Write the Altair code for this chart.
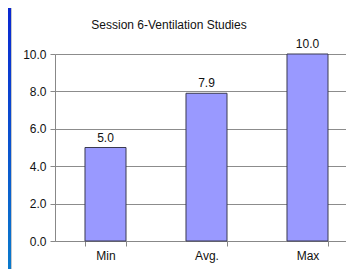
import altair as alt
import pandas as pd

categories = ["Min", "Avg.", "Max"]
values = [5.0, 7.9, 10.0]
labels = ["5.0", "7.9", "10.0"]
title_text = ["Session 6-Ventilation Studies"]
y_ticks = [0, 2, 4, 6, 8, 10]

df = pd.DataFrame({"cat": categories, "val": values, "lab": labels})
tdf = pd.DataFrame({"t": title_text})

FONT = "Liberation Sans"

xscale = alt.Scale(domain=categories, range=[0, 303], paddingInner=0.594, paddingOuter=0.297)
yscale = alt.Scale(domain=[0, 10], nice=False)

xaxis = alt.Axis(title=None, labelAngle=0, tickBand="extent", tickSize=5,
                 tickColor="#888888", domainColor="#888888", labelPadding=4,
                 labelFont=FONT, labelFontSize=12, labelColor="#111111", grid=False)
yaxis = alt.Axis(title=None, values=y_ticks, format=".1f", tickSize=5,
                 labelOverlap=False, labelBound=False, labelFlush=False,
                 tickColor="#888888", domainColor="#888888", gridColor="#8c8c8c",
                 labelPadding=4, labelFont=FONT, labelFontSize=12, labelColor="#111111")

bars = alt.Chart(df).mark_bar(color="#9999ff", stroke="#3a3a50", strokeWidth=1).encode(
    x=alt.X("cat:N", scale=xscale, sort=categories, axis=xaxis),
    y=alt.Y("val:Q", scale=yscale, axis=yaxis),
)

text = alt.Chart(df).mark_text(dy=-10, baseline="middle", font=FONT, fontSize=12, color="#111111").encode(
    x=alt.X("cat:N", scale=xscale, sort=categories, axis=xaxis),
    y=alt.Y("val:Q", scale=yscale, axis=yaxis),
    text="lab:N",
)

title = alt.Chart(tdf).mark_text(font=FONT, fontSize=12, color="#111111", baseline="middle").encode(
    x=alt.value(114), y=alt.value(-29), text="t:N")

strip = alt.Chart(df).mark_rect(
    color=alt.LinearGradient(gradient="linear", x1=0, x2=0, y1=0, y2=1,
                             stops=[alt.GradientStop(color="#0a28d2", offset=0),
                                    alt.GradientStop(color="#0a7acc", offset=1)])
).encode(x=alt.value(-47), x2=alt.value(-44), y=alt.value(-46), y2=alt.value(215))

border = alt.Chart(df).mark_rule(color="#c8c8c8", strokeWidth=1).encode(
    x=alt.value(-43.5), y=alt.value(-46), y2=alt.value(215))

chart = alt.layer(strip, border, title, bars, text).properties(
    width=291, height=187,
    autosize="none",
    padding={"left": 47, "top": 46, "right": 0, "bottom": 28},
).configure_view(stroke=None).configure(background="white")

chart.save("out.html", embed_options={"renderer": "svg", "actions": False})
